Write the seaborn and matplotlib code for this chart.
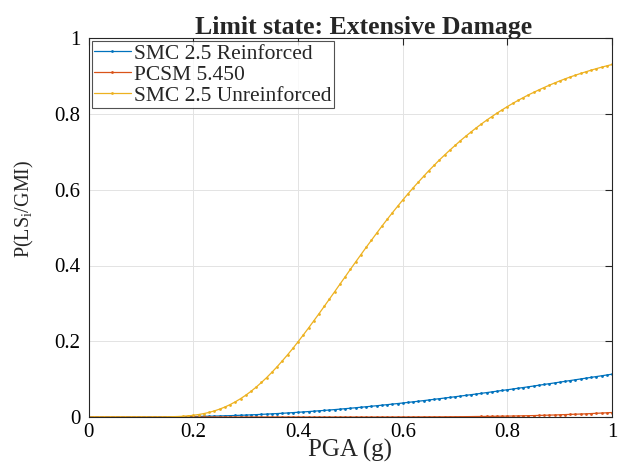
import numpy as np
import pandas as pd
import matplotlib
matplotlib.use("Agg")
import matplotlib.pyplot as plt
import seaborn as sns

# PGA (g), 0 ~ 1 step 0.01
pga = [round(i * 0.01, 2) for i in range(101)]

smc_reinf = [0.0] * 10 + [
    0.0001, 0.0001, 0.0002, 0.0002, 0.0003, 0.0004, 0.0005, 0.0007, 0.0008, 0.0010,
    0.0012, 0.0015, 0.0018, 0.0021, 0.0024, 0.0028, 0.0032, 0.0036, 0.0041, 0.0046,
    0.0051, 0.0057, 0.0063, 0.0070, 0.0077, 0.0084, 0.0091, 0.0099, 0.0107, 0.0116,
    0.0125, 0.0134, 0.0144, 0.0154, 0.0164, 0.0174, 0.0185, 0.0196, 0.0208, 0.0220,
    0.0232, 0.0245, 0.0258, 0.0271, 0.0284, 0.0298, 0.0312, 0.0326, 0.0341, 0.0355,
    0.0370, 0.0386, 0.0401, 0.0417, 0.0433, 0.0450, 0.0467, 0.0484, 0.0501, 0.0518,
    0.0535, 0.0553, 0.0571, 0.0589, 0.0607, 0.0625, 0.0644, 0.0663, 0.0682, 0.0701,
    0.0720, 0.0739, 0.0759, 0.0778, 0.0798, 0.0818, 0.0839, 0.0859, 0.0880, 0.0900,
    0.0921, 0.0942, 0.0963, 0.0984, 0.1005, 0.1026, 0.1047, 0.1068, 0.1089, 0.1110,
    0.1131]

pcsm = [0.0] * 55 + [
    0.0001, 0.0001, 0.0001, 0.0001, 0.0002,
    0.0002, 0.0002, 0.0003, 0.0003, 0.0004, 0.0004, 0.0005, 0.0005, 0.0006, 0.0007,
    0.0008, 0.0009, 0.0010, 0.0011, 0.0013, 0.0014, 0.0016, 0.0018, 0.0020, 0.0022,
    0.0024, 0.0026, 0.0029, 0.0032, 0.0035, 0.0038, 0.0042, 0.0046, 0.0050, 0.0054,
    0.0059, 0.0064, 0.0069, 0.0074, 0.0079, 0.0084, 0.0091, 0.0098, 0.0105, 0.0112,
    0.0119]

smc_unreinf = [0.0] * 15 + [
    0.0004, 0.0008, 0.0013, 0.0020, 0.0031,
    0.0046, 0.0066, 0.0091, 0.0122, 0.0161, 0.0208, 0.0263, 0.0327, 0.0401, 0.0484,
    0.0576, 0.0678, 0.0791, 0.0912, 0.1042, 0.1182, 0.1329, 0.1485, 0.1645, 0.1812,
    0.1988, 0.2168, 0.2351, 0.2540, 0.2729, 0.2922, 0.3117, 0.3311, 0.3509, 0.3703,
    0.3901, 0.4094, 0.4286, 0.4479, 0.4665, 0.4852, 0.5036, 0.5215, 0.5390, 0.5561,
    0.5730, 0.5894, 0.6053, 0.6206, 0.6357, 0.6506, 0.6646, 0.6787, 0.6918, 0.7047,
    0.7170, 0.7294, 0.7409, 0.7521, 0.7630, 0.7734, 0.7835, 0.7930, 0.8023, 0.8111,
    0.8197, 0.8279, 0.8357, 0.8431, 0.8504, 0.8570, 0.8637, 0.8699, 0.8760, 0.8818,
    0.8874, 0.8927, 0.8978, 0.9025, 0.9071, 0.9115, 0.9157, 0.9198, 0.9236, 0.9272,
    0.9307]

labels = ['SMC 2.5 Reinforced', 'PCSM 5.450', 'SMC 2.5 Unreinforced']
colors = ['#0072BD', '#D95319', '#EDB120']
x_ticks = [0, 0.2, 0.4, 0.6, 0.8, 1]
x_ticklabels = ['0', '0.2', '0.4', '0.6', '0.8', '1']
y_ticks = [0, 0.2, 0.4, 0.6, 0.8, 1]
y_ticklabels = ['0', '0.2', '0.4', '0.6', '0.8', '1']

sns.set_style('white')
plt.rcParams['font.family'] = ['Liberation Serif', 'DejaVu Serif']
plt.rcParams['mathtext.fontset'] = 'custom'
plt.rcParams['mathtext.rm'] = 'Liberation Serif'
plt.rcParams['mathtext.it'] = 'Liberation Serif'

fig = plt.figure(figsize=(6.43, 4.72), dpi=100)
ax = fig.add_axes([0.138, 0.1165, 0.814, 0.8025])

for y, lab, c in zip([smc_reinf, pcsm, smc_unreinf], labels, colors):
    sns.lineplot(x=pga, y=y, ax=ax, color=c, label=lab, linewidth=0.9,
                 marker='.', markersize=4, markeredgewidth=0)

ax.set_xlim(0, 1)
ax.set_ylim(0, 1)
ax.set_xticks(x_ticks)
ax.set_xticklabels(x_ticklabels)
ax.set_yticks(y_ticks)
ax.set_yticklabels(y_ticklabels)
ax.tick_params(direction='in', length=5, width=0.8, labelsize=15, pad=6,
               top=True, right=True, colors='#262626', labelcolor='black')
ax.tick_params(axis='x', pad=4)
ax.grid(True, color='#e3e3e3', linewidth=0.7)
for s in ax.spines.values():
    s.set_color('#262626')
    s.set_linewidth(0.8)

ax.set_title('Limit state: Extensive Damage', fontsize=18.5, fontweight='bold',
             pad=3, x=0.525)
ax.set_xlabel('PGA (g)', fontsize=18, labelpad=-2)
ax.set_ylabel('P(LS$_{\\mathrm{i}}$/GMI)', fontsize=14.5)
ax.yaxis.set_label_coords(-0.1, 0.55)

leg = ax.legend(loc='upper left', fontsize=15.5, frameon=True, fancybox=False,
                borderaxespad=0.15, borderpad=0.1, handlelength=1.7,
                handletextpad=0.15, labelspacing=0.05, edgecolor='#262626')
leg.get_frame().set_linewidth(0.8)

fig.savefig('out.png', dpi=100)
